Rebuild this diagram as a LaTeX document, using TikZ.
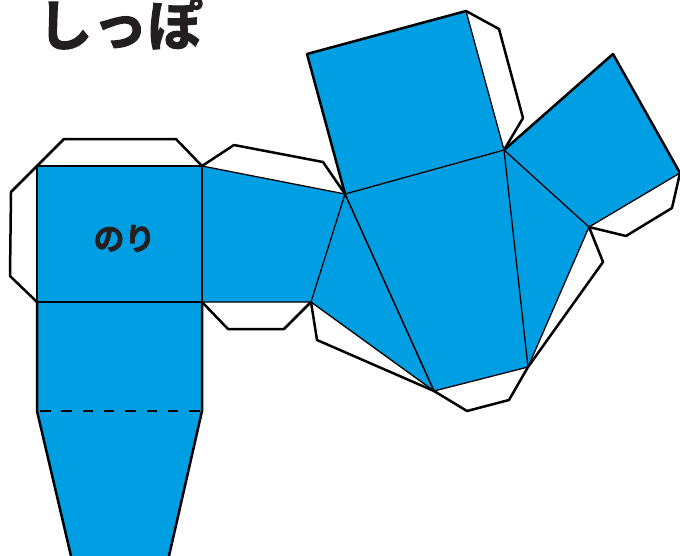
\documentclass[tikz,border=0pt]{standalone}
\usepackage{fontspec}
\newfontfamily\cjk[BoldFeatures={FakeBold=1.6}]{Noto Sans CJK JP}
\newfontfamily\cjkheavy[FakeBold=2.2]{Noto Sans CJK JP Bold}
\definecolor{netblue}{HTML}{009FE3}
\definecolor{inkblack}{HTML}{231F20}
\tikzset{
  x=1pt,y=-1pt,
  face/.style={fill=netblue,draw=none},
  outer/.style={draw=black,line width=2.5pt,line join=round,line cap=round},
  fold/.style={draw=black,line width=1.3pt,line join=round,line cap=round},
  dashfold/.style={draw=black,line width=1.3pt,dash pattern=on 10.5pt off 10.8pt,dash phase=-3pt},
  title/.style={inner sep=0pt,text=inkblack}
}
\begin{document}
\begin{tikzpicture}
\useasboundingbox (0,0) rectangle (680,555);
\clip (0,0) rectangle (680,555);
% named vertices
\coordinate (a) at (37,166); \coordinate (b) at (202,166);
\coordinate (c) at (202,302); \coordinate (d) at (37,302);
\coordinate (e) at (202,411); \coordinate (f) at (37,411);
\coordinate (g) at (169,556); \coordinate (h) at (71,556);
\coordinate (i) at (345,194); \coordinate (j) at (311,302);
\coordinate (k) at (434,391); \coordinate (l) at (504,150);
\coordinate (m) at (528,367); \coordinate (n) at (307,54);
\coordinate (o) at (466,11); \coordinate (p) at (613,54);
\coordinate (q) at (680,173); \coordinate (r) at (589,227);
% blue faces
\fill[face] (a)--(b)--(i)--(n)--(o)--(l)--(p)--(q)--(r)--(m)--(k)--(j)--(c)--(e)--(g)--(h)--(f)--(d)--cycle;
% glue tabs
\draw[outer] (a)--(64,139)--(176,139)--(b);
\draw[outer] (a)--(11,192)--(10,276)--(d);
\draw[outer] (b)--(234,145)--(323,162)--(i);
\draw[outer] (c)--(228,329)--(284,329)--(j);
\draw[outer] (j)--(317,340)--(k);
\draw[outer] (k)--(467,411)--(509,400)--(m);
\draw[outer] (m)--(603,262)--(r);
\draw[outer] (r)--(626,236)--(672,208)--(q);
\draw[outer] (o)--(499,29)--(523,118)--(l);
% outer edges of the faces
\draw[outer] (i)--(n)--(o);
\draw[outer] (l)--(p)--(q);
\draw[outer] (d)--(f)--(h);
\draw[outer] (c)--(e)--(g);
% fold lines
\draw[fold] (a)--(b)--(c)--(d)--cycle;
\draw[fold] (b)--(i)--(j)--(c);
\draw[fold] (i)--(k)--(j);
\draw[fold] (i)--(l)--(m)--(k)--cycle;
\draw[fold] (o)--(l);
\draw[fold] (l)--(r)--(m);
\draw[fold] (r)--(q);
\draw[dashfold] (f)--(e);
% labels
\node[title,font=\cjkheavy\fontsize{55}{55}\selectfont,anchor=center] (tail) at (120,23.5) {しっぽ};
\node[title,font=\cjkheavy\fontsize{31}{31}\selectfont,anchor=center] (glue) at (124.5,238.5) {のり};
\end{tikzpicture}
\end{document}
